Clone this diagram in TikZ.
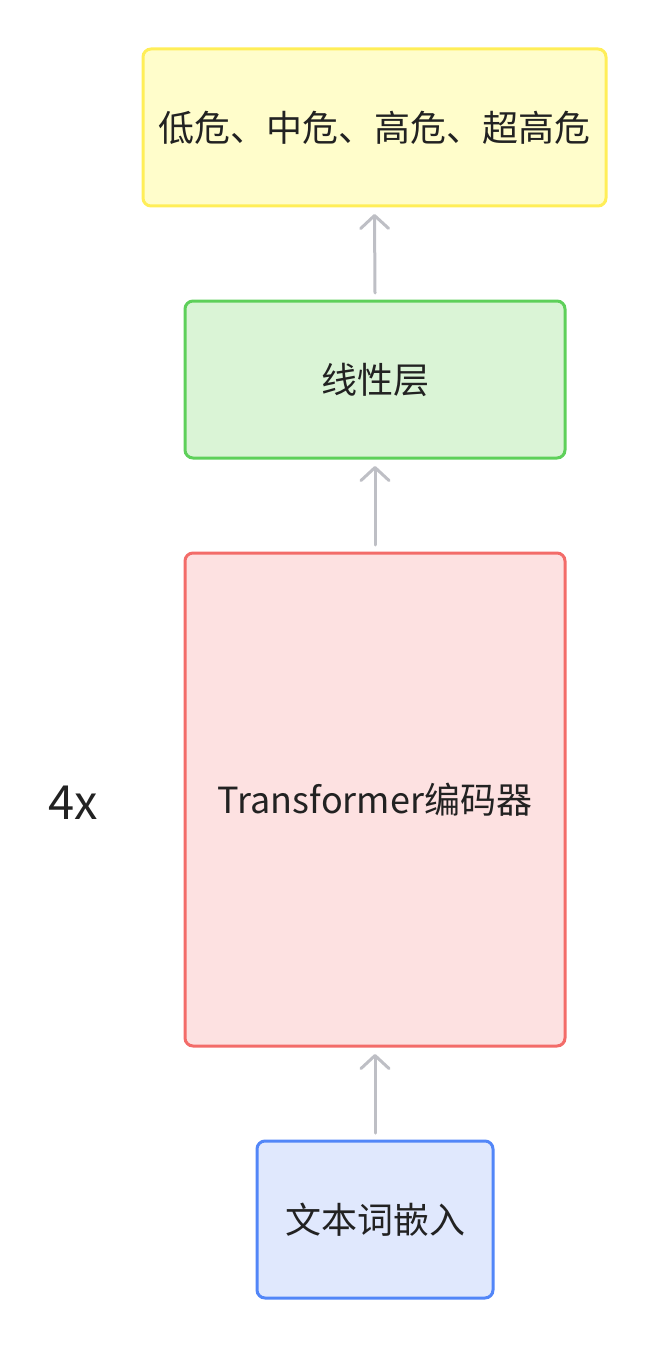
\documentclass[tikz,border=0pt]{standalone}
\usepackage{fontspec}
\setmainfont{Noto Sans CJK SC}
\usetikzlibrary{arrows.meta}
\definecolor{ylwF}{HTML}{FFFDCB}
\definecolor{ylwD}{HTML}{FFEE58}
\definecolor{grnF}{HTML}{DAF4D6}
\definecolor{grnD}{HTML}{5ED05A}
\definecolor{redF}{HTML}{FDE1E1}
\definecolor{redD}{HTML}{F36C69}
\definecolor{bluF}{HTML}{E0E8FD}
\definecolor{bluD}{HTML}{5286F8}
\definecolor{arrC}{HTML}{BEBFC5}
\definecolor{txtC}{HTML}{222222}
\begin{document}
\begin{tikzpicture}[x=1pt,y=-1pt,
  boxstyle/.style={draw, line width=3pt, rounded corners=8pt, inner sep=0pt, text=txtC, font=\fontsize{36}{40}\selectfont},
  arr/.style={draw=arrC, line width=3pt, line cap=round, -{Straight Barb[length=13pt,width=28pt,line width=3pt,round]}}]
\useasboundingbox (0,0) rectangle (656,1348);
\node[boxstyle, fill=ylwF, draw=ylwD, minimum width=463pt, minimum height=157pt] (out) at (374.5,127.5) {低危、中危、高危、超高危};
\node[boxstyle, fill=grnF, draw=grnD, minimum width=380pt, minimum height=157pt] (lin) at (375,379.5) {线性层};
\node[boxstyle, fill=redF, draw=redD, minimum width=380pt, minimum height=493pt] (enc) at (375,799.5) {Transformer编码器};
\node[boxstyle, fill=bluF, draw=bluD, minimum width=236pt, minimum height=157pt] (emb) at (375,1219.5) {文本词嵌入};
\node[text=txtC, font=\fontsize{47}{50}\selectfont] (rep) at (73,803) {4x};
\coordinate (a1s) at (375,1133);
\coordinate (a1e) at (375,1054);
\coordinate (a2s) at (375,545);
\coordinate (a2e) at (375,466);
\coordinate (a3s) at (375,293);
\coordinate (a3e) at (375,214);
\draw[arr] (emb.north |- a1s) -- (enc.south |- a1e);
\draw[arr] (enc.north |- a2s) -- (lin.south |- a2e);
\draw[arr] (lin.north |- a3s) -- (out.south |- a3e);
\end{tikzpicture}
\end{document}
